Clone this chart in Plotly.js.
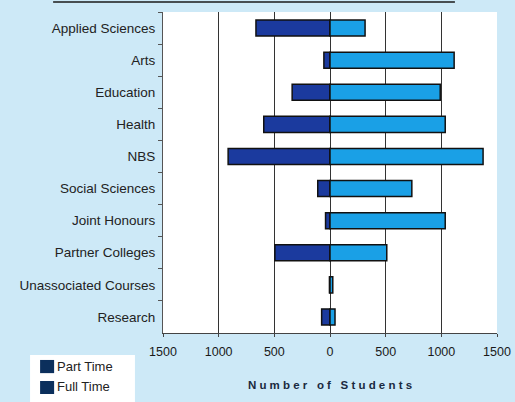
<!DOCTYPE html>
<html><head><meta charset="utf-8">
<script src="https://cdn.plot.ly/plotly-3.0.1.min.js"></script>
<style>html,body{margin:0;padding:0;background:#cde9f7;}#c{width:515px;height:402px;}</style>
</head><body><div id="c"></div>
<script>
const categories = ["Applied Sciences","Arts","Education","Health","NBS","Social Sciences","Joint Honours","Partner Colleges","Unassociated Courses","Research"];
const partTime = [665, 55, 340, 595, 915, 110, 40, 495, 5, 75];
const fullTime = [315, 1115, 990, 1035, 1375, 735, 1035, 510, 25, 45];
const tickValues = [-1500,-1000,-500,0,500,1000,1500];
const tickLabels = ["1500","1000","500","0","500","1000","1500"];

const outline = {color:'#111', width:1.5};
const traces = [
  {type:'bar', orientation:'h', name:'Part Time', y:categories, x:partTime.map(v=>-v),
   marker:{color:'#1b3a9e', line:outline}, hoverinfo:'skip'},
  {type:'bar', orientation:'h', name:'Full Time', y:categories, x:fullTime,
   marker:{color:'#1aa0e6', line:outline}, hoverinfo:'skip'}
];
const layout = {
  width:515, height:402,
  margin:{l:163, r:18, t:12, b:69},
  paper_bgcolor:'#cde9f7', plot_bgcolor:'#ffffff',
  barmode:'relative', bargap:0.5, showlegend:false,
  font:{family:'Liberation Sans, Arial, sans-serif', color:'#222'},
  xaxis:{range:[-1500,1500], tickvals:tickValues, ticktext:tickLabels,
    showgrid:true, gridcolor:'#333', gridwidth:1, zeroline:false,
    showline:true, linecolor:'#444', linewidth:1, ticks:'outside', ticklen:3, tickcolor:'#444',
    ticklabelstandoff:4,
    tickfont:{size:12.5, color:'#1a1a1a'},
    title:{text:'<b>N u m b e r   o f   S t u d e n t s</b>', font:{size:11.5, color:'#1a2a40'}, standoff:22}},
  yaxis:{autorange:'reversed', showline:true, linecolor:'#555', linewidth:1,
    ticks:'outside', tickson:'boundaries', ticklen:4, tickcolor:'#555', ticklabelstandoff:4,
    tickfont:{size:13.5, color:'#222'}, showgrid:false},
  shapes:[
    {type:'rect', xref:'paper', yref:'paper', x0:-0.398, x1:-0.084, y0:-0.215, y1:-0.0685,
     fillcolor:'#ffffff', line:{width:0}, layer:'below'},
    {type:'rect', xref:'paper', yref:'paper', x0:-0.368, x1:-0.326, y0:-0.125, y1:-0.084,
     fillcolor:'#0b2f5c', line:{width:0}},
    {type:'rect', xref:'paper', yref:'paper', x0:-0.368, x1:-0.326, y0:-0.190, y1:-0.1495,
     fillcolor:'#0b2f5c', line:{width:0}},
    {type:'line', xref:'paper', yref:'paper', x0:-0.329, x1:0.874, y0:1.031, y1:1.031,
     line:{color:'#1a1a1a', width:1.5}}
  ],
  annotations:[
    {xref:'paper', yref:'paper', x:-0.322, y:-0.103, xanchor:'left', yanchor:'middle', showarrow:false,
     text:'Part Time', font:{size:13, color:'#222'}},
    {xref:'paper', yref:'paper', x:-0.322, y:-0.168, xanchor:'left', yanchor:'middle', showarrow:false,
     text:'Full Time', font:{size:13, color:'#222'}}
  ]
};
Plotly.newPlot('c', traces, layout, {displayModeBar:false, staticPlot:true});
</script></body></html>
